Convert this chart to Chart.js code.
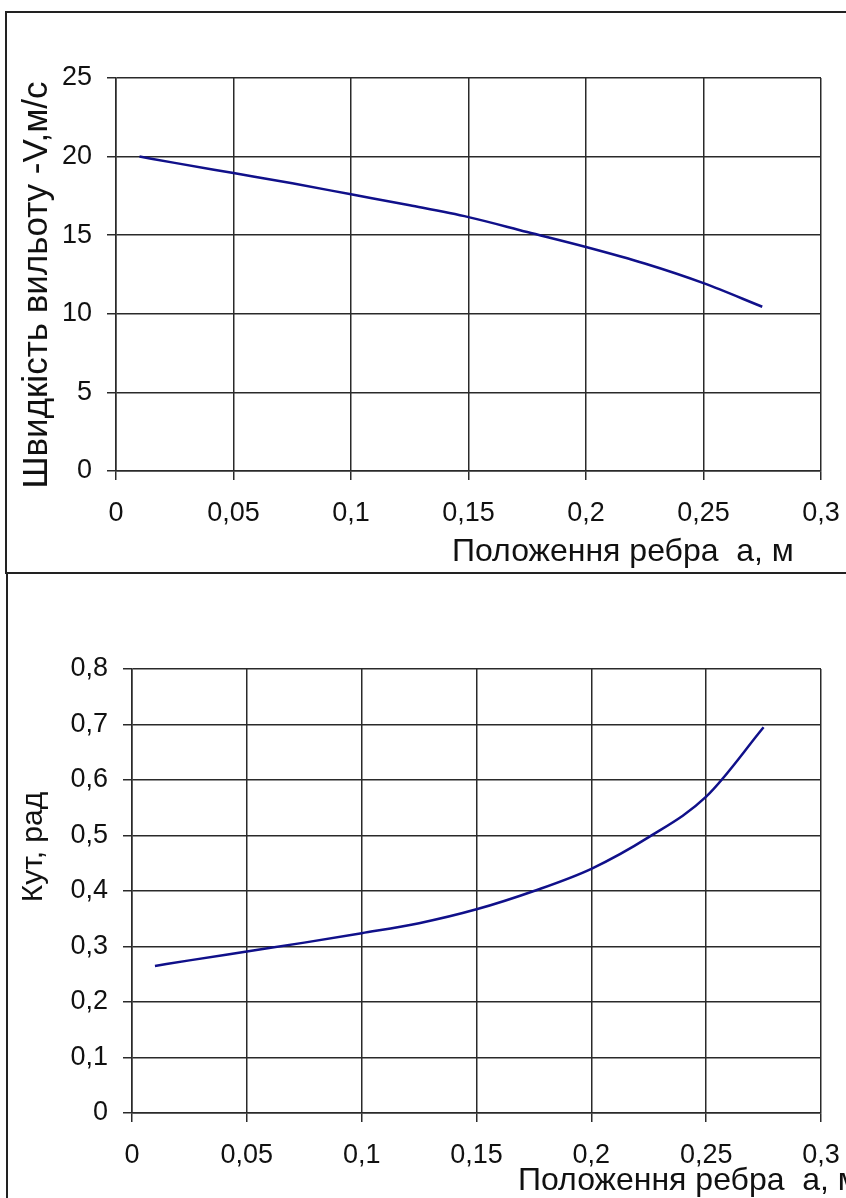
<!DOCTYPE html>
<html>
<head>
<meta charset="utf-8">
<script src="https://cdn.jsdelivr.net/npm/chart.js@4.4.1/dist/chart.umd.min.js"></script>
<style>
  html, body { margin: 0; padding: 0; background: #fff; }
  body { width: 846px; height: 1198px; position: relative; overflow: hidden; }
  .frame { position: absolute; border: 2px solid #222; border-right: none; box-sizing: border-box; }
  .box { position: absolute; left: 0; width: 846px; }
</style>
</head>
<body>
<div class="frame" style="left:5px; top:11px; width:845px; height:563px;"></div>
<div class="frame" style="left:6px; top:572px; width:845px; height:640px; border-bottom:none;"></div>
<div class="box" style="top:0; height:573px;"><canvas id="speedChart" width="846" height="573"></canvas></div>
<div class="box" style="top:573px; height:625px;"><canvas id="angleChart" width="846" height="625"></canvas></div>
<script>
// rib position a, m
const positions = [0.01, 0.025, 0.05, 0.075, 0.1, 0.125, 0.15, 0.175, 0.2, 0.225, 0.25, 0.275];
// exit velocity V, m/s
const speeds = [20.0, 19.6, 18.95, 18.3, 17.6, 16.9, 16.15, 15.2, 14.25, 13.2, 11.95, 10.45];
// angle, rad
const angles = [0.265, 0.275, 0.291, 0.307, 0.324, 0.342, 0.367, 0.40, 0.44, 0.497, 0.57, 0.695];

const xTicks = [0, 0.05, 0.1, 0.15, 0.2, 0.25, 0.3];
const speedTicks = [0, 5, 10, 15, 20, 25];
const angleTicks = [0, 0.1, 0.2, 0.3, 0.4, 0.5, 0.6, 0.7, 0.8];

const FONT = "'Liberation Sans', Arial, sans-serif";
const fmt = v => String(Number(v.toFixed(2))).replace('.', ',');

// axis titles drawn on the canvas
const axisTitles = {
    id: 'axisTitles',
    afterDraw(chart, args, opts) {
        const ctx = chart.ctx;
        ctx.save();
        ctx.fillStyle = '#111';
        ctx.textBaseline = 'middle';
        ctx.textAlign = 'left';
        ctx.font = opts.xSize + 'px ' + FONT;
        ctx.fillText(opts.xText, opts.xPos[0], opts.xPos[1]);
        ctx.translate(opts.yPos[0], opts.yPos[1]);
        ctx.rotate(-Math.PI / 2);
        ctx.textAlign = 'center';
        ctx.font = opts.ySize + 'px ' + FONT;
        ctx.fillText(opts.yText, 0, 0);
        ctx.restore();
    }
};

// drop the label overflow padding so the layout padding alone sets the plot box
function noOverflow(s) {
    s.paddingLeft = 0; s.paddingRight = 0; s.paddingTop = 0; s.paddingBottom = 0;
}

function makeChart(id, values, yTicks, yMax, geo) {
    const ctx = document.getElementById(id).getContext('2d');
    return new Chart(ctx, {
        type: 'line',
        data: {
            datasets: [{
                data: positions.map((a, i) => ({ x: a, y: values[i] })),
                borderColor: '#10108a',
                borderWidth: 2.5,
                pointRadius: 0,
                cubicInterpolationMode: 'monotone',
                fill: false
            }]
        },
        plugins: [axisTitles],
        options: {
            responsive: false,
            animation: false,
            events: [],
            layout: { padding: { left: 0, right: 846 - geo.right, top: geo.top, bottom: 0 } },
            plugins: {
                legend: { display: false },
                tooltip: { enabled: false },
                axisTitles: geo.titles
            },
            scales: {
                x: {
                    type: 'linear',
                    min: 0, max: 0.3,
                    afterFit: s => { s.height = geo.height - geo.bottom; noOverflow(s); },
                    afterBuildTicks: s => { s.ticks = xTicks.map(v => ({ value: v })); },
                    grid: { color: '#2a2a2a', lineWidth: 1.5, tickLength: 9 },
                    border: { color: '#2a2a2a', width: 1.5 },
                    ticks: {
                        color: '#111', font: { family: FONT, size: 27 },
                        padding: 17, maxRotation: 0, callback: v => fmt(v)
                    }
                },
                y: {
                    min: 0, max: yMax,
                    afterFit: s => { s.width = geo.left; noOverflow(s); },
                    afterBuildTicks: s => { s.ticks = yTicks.map(v => ({ value: v })); },
                    grid: { color: '#2a2a2a', lineWidth: 1.5, tickLength: 9 },
                    border: { color: '#2a2a2a', width: 1.5 },
                    ticks: {
                        color: '#111', font: { family: FONT, size: 27 },
                        padding: 15, callback: v => fmt(v)
                    }
                }
            }
        }
    });
}

makeChart('speedChart', speeds, speedTicks, 25, {
    left: 116, right: 821, top: 78, bottom: 471, height: 573,
    titles: {
        xText: 'Положення ребра  а, м', xPos: [452, 552], xSize: 32,
        yText: 'Швидкість вильоту -V,м/с', yPos: [37, 285], ySize: 35
    }
});

makeChart('angleChart', angles, angleTicks, 0.8, {
    left: 132, right: 821, top: 96, bottom: 540, height: 625,
    titles: {
        xText: 'Положення ребра  а, м', xPos: [518, 608], xSize: 32,
        yText: 'Кут, рад', yPos: [34, 274], ySize: 30
    }
});
</script>
</body>
</html>
